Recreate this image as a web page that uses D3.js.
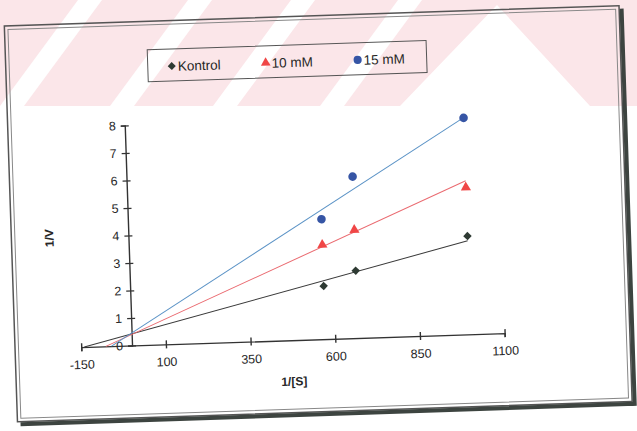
<!DOCTYPE html>
<html>
<head>
<meta charset="utf-8">
<script src="https://cdn.jsdelivr.net/npm/d3@7"></script>
<style>
body { margin: 0; background: #fff; }
text { font-family: "Liberation Sans", Arial, sans-serif; fill: #262626; }
</style>
</head>
<body>
<script>
var w = 637;
var h = 431;

// data
var seriesNames = ["Kontrol", "10 mM", "15 mM"];
var xVals = [571, 667, 1000];
var kontrol = [1.93, 2.45, 3.57];
var mm10 = [3.43, 3.93, 5.34];
var mm15 = [4.36, 5.87, 7.87];
// trendlines (slope, intercept) as drawn in the scan
var trendSlope = [0.00298, 0.00518, 0.00743];
var trendIcept = [0.42, 0.40, 0.45];
var xTicks = [-150, 100, 350, 600, 850, 1100];
var yTicks = [0, 1, 2, 3, 4, 5, 6, 7, 8];

var markColor = ["#2e3a33", "#f04646", "#3655a5"];
var lineColor = ["#3a3a3a", "#ea6a70", "#5b93c6"];
var symbols = [d3.symbolSquare, d3.symbolTriangle, d3.symbolCircle];
var symSize = [36, 45, 58];

var svg = d3.select('body')
            .append('svg')
            .attr('width', w)
            .attr('height', h);

// pink watermark band across the top of the scan
var wm = svg.append('g');
wm.append('rect')
  .attr('x', 0).attr('y', 0)
  .attr('width', w).attr('height', 106)
  .attr('fill', '#fbe6e9');
[-107, 0, 110, 213, 320].forEach(function(b) {
    wm.append('path')
      .attr('d', 'M' + b + ',106L' + (b + 24) + ',106L' + (b + 102) + ',0L' + (b + 78) + ',0Z')
      .attr('fill', '#fff');
});
wm.append('path')
  .attr('d', 'M400,106L590,106L497,5Z')
  .attr('fill', '#fff');

// the scanned sheet is slightly tilted
var page = svg.append('g')
              .attr('transform', 'rotate(-1.9,132,345.5)');

// frame
page.append('rect')
    .attr('x', 15).attr('y', 22)
    .attr('width', 615).attr('height', 396)
    .attr('fill', 'none')
    .attr('stroke', '#555')
    .attr('stroke-width', 1.5);
page.append('rect')
    .attr('x', 18.5).attr('y', 25.5)
    .attr('width', 608).attr('height', 389)
    .attr('fill', 'none')
    .attr('stroke', '#888')
    .attr('stroke-width', 1);
page.append('path')
    .attr('d', 'M18,420.5L633,420.5M632.5,25L632.5,422.5')
    .attr('fill', 'none')
    .attr('stroke', '#3d4440')
    .attr('stroke-width', 4);

var x = d3.scaleLinear()
          .domain([-150, 1100])
          .range([81.2, 504.8]);
var y = d3.scaleLinear()
          .domain([0, 8])
          .range([345.5, 125.4]);

var xAxis = d3.axisBottom(x)
              .tickValues(xTicks)
              .tickFormat(function(d) { return String(d); })
              .tickSizeOuter(0)
              .tickSize(4);
var yAxis = d3.axisLeft(y)
              .tickValues(yTicks)
              .tickFormat(function(d) { return String(d); })
              .tickSizeOuter(0)
              .tickSize(4);

var gx = page.append('g')
             .attr('transform', 'translate(0,' + y(0) + ')')
             .call(xAxis);
gx.selectAll('.tick line').attr('y1', -4).attr('y2', 4);
gx.selectAll('.tick text').attr('y', 13);

var gy = page.append('g')
             .attr('transform', 'translate(' + x(0) + ',0)')
             .call(yAxis);
gy.selectAll('.tick line').attr('x1', 4).attr('x2', -4);
gy.selectAll('.tick text').attr('x', -9);

page.selectAll('.domain, .tick line')
    .attr('stroke', '#333')
    .attr('stroke-width', 1.4);
page.selectAll('.tick text')
    .attr('font-size', 12.5)
    .attr('font-family', '"Liberation Sans", Arial, sans-serif')
    .attr('fill', '#262626');

page.append('text')
    .attr('x', 293).attr('y', 391)
    .attr('text-anchor', 'middle')
    .attr('font-size', 12)
    .attr('font-weight', 'bold')
    .text('1/[S]');
page.append('text')
    .attr('transform', 'translate(57,235.5) rotate(-90)')
    .attr('text-anchor', 'middle')
    .attr('font-size', 12)
    .attr('font-weight', 'bold')
    .text('1/V');

// trendlines, clipped at 1/V = 0
var line = d3.line()
             .x(function(d) { return x(d[0]); })
             .y(function(d) { return y(d[1]); });
trendSlope.forEach(function(s, i) {
    var x0 = Math.max(-150, -trendIcept[i] / s);
    var x1 = d3.max(xVals);
    page.append('path')
        .attr('d', line([[x0, trendIcept[i] + s * x0], [x1, trendIcept[i] + s * x1]]))
        .attr('fill', 'none')
        .attr('stroke', lineColor[i])
        .attr('stroke-width', 1);
});

// points
[kontrol, mm10, mm15].forEach(function(vals, i) {
    page.append('g').selectAll('path')
        .data(vals)
        .enter()
        .append('path')
        .attr('d', d3.symbol().type(symbols[i]).size(symSize[i]))
        .attr('transform', function(d, j) {
            return 'translate(' + x(xVals[j]) + ',' + y(d) + ')' + (i === 0 ? ' rotate(45)' : '');
        })
        .attr('fill', markColor[i]);
});

// legend
var legend = page.append('g');
legend.append('rect')
      .attr('x', 157).attr('y', 50.5)
      .attr('width', 279).attr('height', 32)
      .attr('fill', 'none')
      .attr('stroke', '#555')
      .attr('stroke-width', 1);
var legX = [181, 275, 367];
seriesNames.forEach(function(name, i) {
    legend.append('path')
          .attr('d', d3.symbol().type(symbols[i]).size(symSize[i] * 0.9))
          .attr('transform', 'translate(' + legX[i] + ',67.5)' + (i === 0 ? ' rotate(45)' : ''))
          .attr('fill', markColor[i]);
    legend.append('text')
          .attr('x', legX[i] + 6)
          .attr('y', 72.5)
          .attr('font-size', 13.5)
          .text(name);
});
</script>
</body>
</html>
